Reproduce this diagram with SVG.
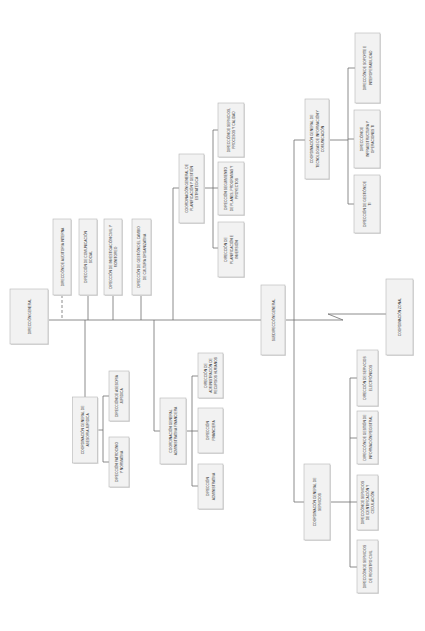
<svg xmlns="http://www.w3.org/2000/svg" width="425" height="631" viewBox="0 0 425 631">
<style>
.bg{fill:#ffffff}
.box{fill:#f2f2f2;stroke:#b5b5b5;stroke-width:0.6}
.sh{fill:#dcdcdc}
.c{fill:none;stroke:#6e6e6e;stroke-width:0.8}
.d{fill:none;stroke:#6e6e6e;stroke-width:0.8;stroke-dasharray:3,2}
.t{font-family:"Liberation Sans",Arial,sans-serif;font-size:4.3px;fill:#3a3a3a;text-anchor:middle}
</style>
<rect class="bg" x="0" y="0" width="425" height="631"/>
<g id="connectors">
<path class="c" d="M48 320 H294"/>
<path class="d" d="M62 295 V320"/>
<path class="c" d="M88 295 V320 M113 295 V320 M141 295 V320"/>
<path class="c" d="M85 320 V397 M97.5 430 H103 M103 396 V462 M103 396 H109 M103 462 H109"/>
<path class="c" d="M154 320 V431 H160 M186 431 H192 M192 376 V486 M192 376 H198 M192 431 H198 M192 486 H198"/>
<path class="c" d="M173 320 V188 H179 M204 188 H213 M213 130 V248 M213 130 H218 M213 188 H218 M213 248 H218"/>
<path class="c" d="M294 140 V502 M294 140 H305 M329 140 H348 M348 68 V204 M348 68 H355 M348 139 H354 M348 204 H354"/>
<path class="c" d="M294 502 H304 M330 502 H350 M350 378 V567 M350 378 H357 M350 438 H357 M350 502 H357 M350 567 H357"/>
<path class="c" d="M294 320 H343 L328 314 H386" stroke="#8a8a8a"/>
</g>
<g id="dg"><rect class="sh" x="11" y="290" width="38" height="55"/><rect class="box" x="10" y="289" width="38" height="55"/>
<text class="t" transform="translate(29,316.5) rotate(-90) scale(0.78,1)"><tspan x="0" y="1.5">DIRECCIÓN GENERAL</tspan></text></g>
<g id="aud"><rect class="sh" x="54" y="220" width="18" height="76"/><rect class="box" x="53" y="219" width="18" height="76"/>
<text class="t" transform="translate(62,257) rotate(-90) scale(0.78,1)"><tspan x="0" y="1.5">DIRECCIÓN DE AUDITORÍA INTERNA</tspan></text></g>
<g id="com"><rect class="sh" x="80" y="220" width="18" height="76"/><rect class="box" x="79" y="219" width="18" height="76"/>
<text class="t" transform="translate(88,257) rotate(-90) scale(0.78,1)"><tspan x="0" y="-1.25">DIRECCIÓN DE COMUNICACIÓN</tspan><tspan x="0" y="4.25">SOCIAL</tspan></text></g>
<g id="inv"><rect class="sh" x="105" y="220" width="18" height="76"/><rect class="box" x="104" y="219" width="18" height="76"/>
<text class="t" transform="translate(113,257) rotate(-90) scale(0.78,1)"><tspan x="0" y="-1.25">DIRECCIÓN DE INVESTIGACIÓN CIVIL Y</tspan><tspan x="0" y="4.25">MONITOREO</tspan></text></g>
<g id="cam"><rect class="sh" x="133" y="220" width="19" height="76"/><rect class="box" x="132" y="219" width="19" height="76"/>
<text class="t" transform="translate(141.5,257) rotate(-90) scale(0.78,1)"><tspan x="0" y="-1.25">DIRECCIÓN DE GESTIÓN DEL CAMBIO</tspan><tspan x="0" y="4.25">DE CULTURA ORGANIZATIVA</tspan></text></g>
<g id="cgaj"><rect class="sh" x="73.5" y="398" width="25" height="66"/><rect class="box" x="72.5" y="397" width="25" height="66"/>
<text class="t" transform="translate(85,430) rotate(-90) scale(0.78,1)"><tspan x="0" y="-1.25">COORDINACIÓN GENERAL DE</tspan><tspan x="0" y="4.25">ASESORÍA JURÍDICA</tspan></text></g>
<g id="daj"><rect class="sh" x="110" y="372" width="20" height="50"/><rect class="box" x="109" y="371" width="20" height="50"/>
<text class="t" transform="translate(119,396) rotate(-90) scale(0.78,1)"><tspan x="0" y="-1.25">DIRECCIÓN DE ASESORÍA</tspan><tspan x="0" y="4.25">JURÍDICA</tspan></text></g>
<g id="dpn"><rect class="sh" x="110" y="438" width="20" height="50"/><rect class="box" x="109" y="437" width="20" height="50"/>
<text class="t" transform="translate(119,462) rotate(-90) scale(0.78,1)"><tspan x="0" y="-1.25">DIRECCIÓN PATROCINIO</tspan><tspan x="0" y="4.25">Y NORMATIVA</tspan></text></g>
<g id="cgaf"><rect class="sh" x="161" y="399" width="26" height="66"/><rect class="box" x="160" y="398" width="26" height="66"/>
<text class="t" transform="translate(173,431) rotate(-90) scale(0.78,1)"><tspan x="0" y="-1.25">COORDINACIÓN GENERAL</tspan><tspan x="0" y="4.25">ADMINISTRATIVA FINANCIERA</tspan></text></g>
<g id="drh"><rect class="sh" x="199" y="354" width="25" height="45"/><rect class="box" x="198" y="353" width="25" height="45"/>
<text class="t" transform="translate(210.5,375.5) rotate(-90) scale(0.78,1)"><tspan x="0" y="-4">DIRECCIÓN DE</tspan><tspan x="0" y="1.5">ADMINISTRACIÓN DE</tspan><tspan x="0" y="7">RECURSOS HUMANOS</tspan></text></g>
<g id="dfin"><rect class="sh" x="199" y="409" width="25" height="45"/><rect class="box" x="198" y="408" width="25" height="45"/>
<text class="t" transform="translate(210.5,430.5) rotate(-90) scale(0.78,1)"><tspan x="0" y="-1.25">DIRECCIÓN</tspan><tspan x="0" y="4.25">FINANCIERA</tspan></text></g>
<g id="dadm"><rect class="sh" x="199" y="465" width="25" height="45"/><rect class="box" x="198" y="464" width="25" height="45"/>
<text class="t" transform="translate(210.5,486.5) rotate(-90) scale(0.78,1)"><tspan x="0" y="-1.25">DIRECCIÓN</tspan><tspan x="0" y="4.25">ADMINISTRATIVA</tspan></text></g>
<g id="cgpge"><rect class="sh" x="180" y="155" width="25" height="69"/><rect class="box" x="179" y="154" width="25" height="69"/>
<text class="t" transform="translate(191.5,188.5) rotate(-90) scale(0.78,1)"><tspan x="0" y="-4">COORDINACIÓN GENERAL DE</tspan><tspan x="0" y="1.5">PLANIFICACIÓN Y GESTIÓN</tspan><tspan x="0" y="7">ESTRATÉGICA</tspan></text></g>
<g id="dspc"><rect class="sh" x="219" y="104" width="26" height="54"/><rect class="box" x="218" y="103" width="26" height="54"/>
<text class="t" transform="translate(231,130) rotate(-90) scale(0.78,1)"><tspan x="0" y="-1.25">DIRECCIÓN DE SERVICIOS,</tspan><tspan x="0" y="4.25">PROCESOS Y CALIDAD</tspan></text></g>
<g id="dspp"><rect class="sh" x="219" y="163" width="26" height="53"/><rect class="box" x="218" y="162" width="26" height="53"/>
<text class="t" transform="translate(231,188.5) rotate(-90) scale(0.78,1)"><tspan x="0" y="-4">DIRECCIÓN SEGUIMIENTO</tspan><tspan x="0" y="1.5">DE PLANES, PROGRAMAS Y</tspan><tspan x="0" y="7">PROYECTOS</tspan></text></g>
<g id="dpi"><rect class="sh" x="219" y="223" width="26" height="55"/><rect class="box" x="218" y="222" width="26" height="55"/>
<text class="t" transform="translate(231,249.5) rotate(-90) scale(0.78,1)"><tspan x="0" y="-4">DIRECCIÓN DE</tspan><tspan x="0" y="1.5">PLANIFICACIÓN E</tspan><tspan x="0" y="7">INVERSIÓN</tspan></text></g>
<g id="sub"><rect class="sh" x="262" y="286" width="24" height="70"/><rect class="box" x="261" y="285" width="24" height="70"/>
<text class="t" transform="translate(273,320) rotate(-90) scale(0.78,1)"><tspan x="0" y="1.5">SUBDIRECCIÓN GENERAL</tspan></text></g>
<g id="zon"><rect class="sh" x="387" y="280" width="27" height="76"/><rect class="box" x="386" y="279" width="27" height="76"/>
<text class="t" transform="translate(399.5,317) rotate(-90) scale(0.78,1)"><tspan x="0" y="1.5">COORDINACIÓN ZONAL</tspan></text></g>
<g id="cgtic"><rect class="sh" x="306" y="100" width="24" height="80"/><rect class="box" x="305" y="99" width="24" height="80"/>
<text class="t" transform="translate(317,139) rotate(-90) scale(0.78,1)"><tspan x="0" y="-4">COORDINACIÓN GENERAL DE</tspan><tspan x="0" y="1.5">TECNOLOGÍAS DE INFORMACIÓN Y</tspan><tspan x="0" y="7">COMUNICACIÓN</tspan></text></g>
<g id="dsi"><rect class="sh" x="356" y="34" width="25" height="70"/><rect class="box" x="355" y="33" width="25" height="70"/>
<text class="t" transform="translate(367.5,68) rotate(-90) scale(0.78,1)"><tspan x="0" y="-1.25">DIRECCIÓN DE SOPORTE E</tspan><tspan x="0" y="4.25">INTEROPERABILIDAD</tspan></text></g>
<g id="dio"><rect class="sh" x="355" y="111" width="26" height="58"/><rect class="box" x="354" y="110" width="26" height="58"/>
<text class="t" transform="translate(367,139) rotate(-90) scale(0.78,1)"><tspan x="0" y="-4">DIRECCIÓN DE</tspan><tspan x="0" y="1.5">INFRAESTRUCTURA Y</tspan><tspan x="0" y="7">OPERACIONES TI</tspan></text></g>
<g id="dgti"><rect class="sh" x="355" y="176" width="26" height="58"/><rect class="box" x="354" y="175" width="26" height="58"/>
<text class="t" transform="translate(367,204) rotate(-90) scale(0.78,1)"><tspan x="0" y="-1.25">DIRECCIÓN DE GESTIÓN DE</tspan><tspan x="0" y="4.25">TI</tspan></text></g>
<g id="cgs"><rect class="sh" x="305" y="465" width="26" height="76"/><rect class="box" x="304" y="464" width="26" height="76"/>
<text class="t" transform="translate(317,502) rotate(-90) scale(0.78,1)"><tspan x="0" y="-1.25">COORDINACIÓN GENERAL DE</tspan><tspan x="0" y="4.25">SERVICIOS</tspan></text></g>
<g id="dse"><rect class="sh" x="358" y="351" width="21" height="56"/><rect class="box" x="357" y="350" width="21" height="56"/>
<text class="t" transform="translate(367.5,378) rotate(-90) scale(0.78,1)"><tspan x="0" y="-1.25">DIRECCIÓN DE SERVICIOS</tspan><tspan x="0" y="4.25">ELECTRÓNICOS</tspan></text></g>
<g id="dgir"><rect class="sh" x="358" y="412" width="21" height="53"/><rect class="box" x="357" y="411" width="21" height="53"/>
<text class="t" transform="translate(367.5,437.5) rotate(-90) scale(0.78,1)"><tspan x="0" y="-1.25">DIRECCIÓN DE GESTIÓN DE</tspan><tspan x="0" y="4.25">INFORMACIÓN REGISTRAL</tspan></text></g>
<g id="dsic"><rect class="sh" x="358" y="476" width="21" height="55"/><rect class="box" x="357" y="475" width="21" height="55"/>
<text class="t" transform="translate(367.5,502.5) rotate(-90) scale(0.78,1)"><tspan x="0" y="-4">DIRECCIÓN DE SERVICIOS</tspan><tspan x="0" y="1.5">DE IDENTIFICACIÓN Y</tspan><tspan x="0" y="7">CEDULACIÓN</tspan></text></g>
<g id="dsrc"><rect class="sh" x="358" y="541" width="21" height="53"/><rect class="box" x="357" y="540" width="21" height="53"/>
<text class="t" transform="translate(367.5,566.5) rotate(-90) scale(0.78,1)"><tspan x="0" y="-1.25">DIRECCIÓN DE SERVICIOS</tspan><tspan x="0" y="4.25">DE REGISTRO CIVIL</tspan></text></g>
</svg>
